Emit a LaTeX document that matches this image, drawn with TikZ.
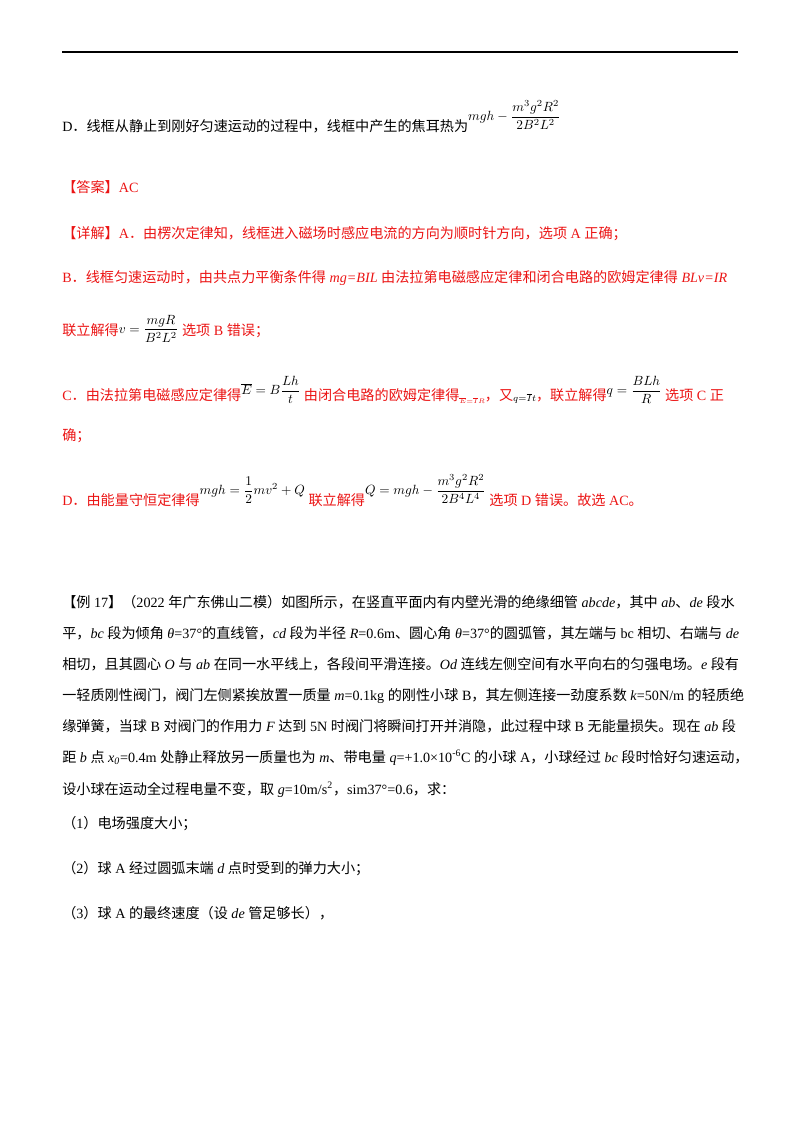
\documentclass[tikz,border=0pt]{standalone}
\usepackage{amsmath}
\usepackage{fontspec}
\setmainfont{Liberation Serif}
\newfontfamily\cjk{Noto Sans CJK SC}
\makeatletter
\XeTeXinterchartokenstate=1
\newXeTeXintercharclass\cjkclass
\def\setcls#1#2{\count@=#1\relax\loop\XeTeXcharclass\count@=\cjkclass\ifnum\count@<#2\advance\count@ 1\repeat}
\setcls{"4E00}{"9FFF}
\setcls{"3000}{"303F}
\setcls{"FF00}{"FFEF}
\XeTeXinterchartoks 0 \cjkclass={\begingroup\cjk}
\XeTeXinterchartoks 4095 \cjkclass={\begingroup\cjk}
\XeTeXinterchartoks \cjkclass 0={\endgroup}
\XeTeXinterchartoks \cjkclass 4095={\endgroup}
\makeatother
\definecolor{ans}{RGB}{235,20,20}
\newcommand\fm[2]{\textcolor{black}{\raisebox{#1}{\fontsize{10pt}{12pt}\selectfont$\displaystyle #2$}}}
\tikzset{ln/.style={anchor=base west,inner sep=0pt,font=\fontsize{10.6pt}{13pt}\selectfont}}
\begin{document}
\begin{tikzpicture}[x=0.75pt,y=-0.75pt]
\useasboundingbox (0,0) rectangle (800,1132);
\draw[line width=1.5pt] (62,52) -- (738,52);
\node[ln] (d0) at (62,131) {D．线框从静止到刚好匀速运动的过程中，线框中产生的焦耳热为\fm{1.6ex}{mgh-\frac{m^3g^2R^2}{2B^2L^2}}};
\node[ln,text=ans] (ans) at (62,192) {【答案】AC};
\node[ln,text=ans] (xa) at (62,238) {【详解】A．由楞次定律知，线框进入磁场时感应电流的方向为顺时针方向，选项 A 正确；};
\node[ln,text=ans] (xb) at (62,282) {B．线框匀速运动时，由共点力平衡条件得 \textit{mg=BIL} 由法拉第电磁感应定律和闭合电路的欧姆定律得 \textit{BLv=IR}};
\node[ln,text=ans] (xb2) at (62,335) {联立解得\fm{0.3ex}{v=\frac{mgR}{B^2L^2}} 选项 B 错误；};
\node[ln,text=ans] (xc) at (62,400) {C．由法拉第电磁感应定律得\fm{0.8ex}{\overline{E}=B\frac{Lh}{t}} 由闭合电路的欧姆定律得\raisebox{-0.6ex}{$\scriptscriptstyle \overline{E}=\overline{I}R$}，又\fm{-0.3ex}{\scriptstyle q=\overline{I}t}，联立解得\fm{0.8ex}{q=\frac{BLh}{R}} 选项 C 正};
\node[ln,text=ans] (xc2) at (62,440) {确；};
\node[ln,text=ans] (xd) at (62,505) {D．由能量守恒定律得\fm{1.6ex}{mgh=\frac12mv^2+Q} 联立解得\fm{1.6ex}{Q=mgh-\frac{m^3g^2R^2}{2B^4L^4}} 选项 D 错误。故选 AC。};
\node[ln] (p1) at (62,607) {【例 17】（2022 年广东佛山二模）如图所示，在竖直平面内有内壁光滑的绝缘细管 \textit{abcde}，其中 \textit{ab}、\textit{de} 段水};
\node[ln] (p2) at (62,638) {平，\textit{bc} 段为倾角 \textit{θ}=37°的直线管，\textit{cd} 段为半径 \textit{R}=0.6m、圆心角 \textit{θ}=37°的圆弧管，其左端与 bc 相切、右端与 \textit{de}};
\node[ln] (p3) at (62,669) {相切，且其圆心 \textit{O} 与 \textit{ab} 在同一水平线上，各段间平滑连接。\textit{Od} 连线左侧空间有水平向右的匀强电场。\textit{e} 段有};
\node[ln] (p4) at (62,700) {一轻质刚性阀门，阀门左侧紧挨放置一质量 \textit{m}=0.1kg 的刚性小球 B，其左侧连接一劲度系数 \textit{k}=50N/m 的轻质绝};
\node[ln] (p5) at (62,731) {缘弹簧，当球 B 对阀门的作用力 \textit{F} 达到 5N 时阀门将瞬间打开并消隐，此过程中球 B 无能量损失。现在 \textit{ab} 段};
\node[ln] (p6) at (62,762) {距 \textit{b} 点 \textit{x}\textsubscript{\textit{0}}=0.4m 处静止释放另一质量也为 \textit{m}、带电量 \textit{q}=+1.0×10\textsuperscript{-6}C 的小球 A，小球经过 \textit{bc} 段时恰好匀速运动，};
\node[ln] (p7) at (62,794) {设小球在运动全过程电量不变，取 \textit{g}=10m/s\textsuperscript{2}，sim37°=0.6，求：};
\node[ln] (q1) at (62,828) {（1）电场强度大小；};
\node[ln] (q2) at (62,873) {（2）球 A 经过圆弧末端 \textit{d} 点时受到的弹力大小；};
\node[ln] (q3) at (62,918) {（3）球 A 的最终速度（设 \textit{de} 管足够长），};
\end{tikzpicture}
\end{document}
